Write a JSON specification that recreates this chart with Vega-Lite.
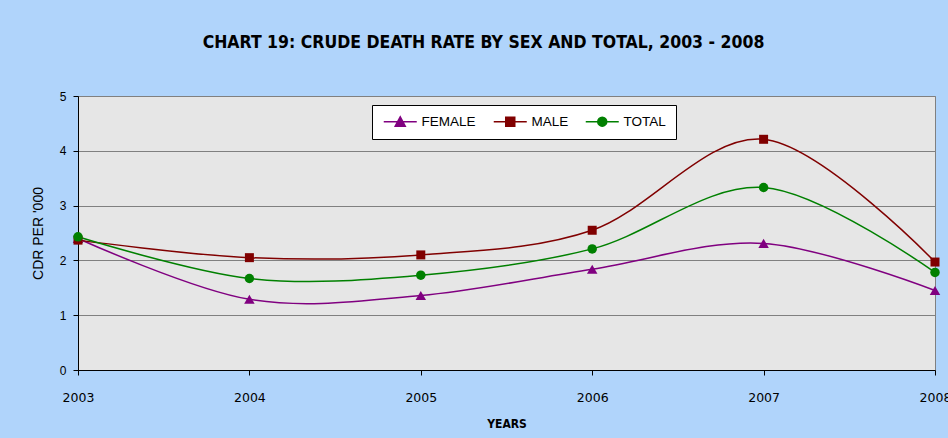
{
  "$schema": "https://vega.github.io/schema/vega-lite/v6.json",
  "width": 857,
  "height": 274,
  "autosize": {"type": "none"},
  "padding": {"left": 78, "top": 96, "right": 13, "bottom": 68},
  "background": "#b0d4fb",
  "title": {
    "text": "CHART 19: CRUDE DEATH RATE BY SEX AND TOTAL, 2003 - 2008",
    "font": "DejaVu Sans Condensed",
    "fontSize": 17.5,
    "fontWeight": "bold",
    "color": "#000000",
    "anchor": "middle",
    "frame": "group",
    "baseline": "alphabetic",
    "dx": -23,
    "offset": 25
  },
  "config": {
    "view": {"fill": "#e6e6e6", "stroke": "#808080", "strokeWidth": 1},
    "legend": {
      "orient": "none",
      "legendX": 294,
      "legendY": 9,
      "direction": "horizontal",
      "fillColor": "#ffffff",
      "strokeColor": "#000000",
      "padding": 9.5,
      "symbolSize": 100,
      "symbolStrokeWidth": 1.5,
      "labelOffset": 26.5,
      "columnPadding": 14,
      "labelFont": "Liberation Sans",
      "labelFontSize": 13.5,
      "labelColor": "#000000",
      "labelLimit": 200
    }
  },
  "data": {
    "values": [
      {"year": 2003, "series": "FEMALE", "cdr": 2.40},
      {"year": 2004, "series": "FEMALE", "cdr": 1.29},
      {"year": 2005, "series": "FEMALE", "cdr": 1.36},
      {"year": 2006, "series": "FEMALE", "cdr": 1.84},
      {"year": 2007, "series": "FEMALE", "cdr": 2.31},
      {"year": 2008, "series": "FEMALE", "cdr": 1.45},
      {"year": 2003, "series": "MALE", "cdr": 2.37},
      {"year": 2004, "series": "MALE", "cdr": 2.05},
      {"year": 2005, "series": "MALE", "cdr": 2.10},
      {"year": 2006, "series": "MALE", "cdr": 2.55},
      {"year": 2007, "series": "MALE", "cdr": 4.21},
      {"year": 2008, "series": "MALE", "cdr": 1.97},
      {"year": 2003, "series": "TOTAL", "cdr": 2.43},
      {"year": 2004, "series": "TOTAL", "cdr": 1.67},
      {"year": 2005, "series": "TOTAL", "cdr": 1.73},
      {"year": 2006, "series": "TOTAL", "cdr": 2.21},
      {"year": 2007, "series": "TOTAL", "cdr": 3.33},
      {"year": 2008, "series": "TOTAL", "cdr": 1.78}
    ]
  },
  "encoding": {
    "x": {
      "field": "year",
      "type": "quantitative",
      "scale": {"domain": [2003, 2008], "nice": false, "zero": false},
      "axis": {
        "title": "YEARS",
        "values": [2003, 2004, 2005, 2006, 2007, 2008],
        "format": "d",
        "grid": false,
        "labelFlush": false,
        "labelOverlap": false,
        "labelBound": false,
        "labelFont": "DejaVu Sans",
        "labelFontSize": 12.5,
        "labelColor": "#000000",
        "labelPadding": 16,
        "tickSize": 5,
        "tickColor": "#000000",
        "domainColor": "#000000",
        "titleFont": "DejaVu Sans Condensed",
        "titleFontSize": 12,
        "titleFontWeight": "bold",
        "titleColor": "#000000",
        "titlePadding": 15
      }
    },
    "y": {
      "field": "cdr",
      "type": "quantitative",
      "scale": {"domain": [0, 5], "nice": false},
      "axis": {
        "title": "CDR PER '000",
        "values": [0, 1, 2, 3, 4, 5],
        "gridColor": "#808080",
        "gridWidth": 1,
        "labelFont": "Liberation Sans",
        "labelFontSize": 12,
        "labelColor": "#000000",
        "labelPadding": 7,
        "tickSize": 5,
        "tickColor": "#000000",
        "domainColor": "#000000",
        "titleFont": "Liberation Sans",
        "titleFontSize": 14,
        "titleFontWeight": "normal",
        "titleColor": "#000000",
        "titlePadding": 14
      }
    }
  },
  "layer": [
    {
      "transform": [{"filter": "datum.cdr < 0"}],
      "mark": {"type": "line", "strokeWidth": 1.5},
      "encoding": {
        "stroke": {
          "field": "series",
          "type": "nominal",
          "scale": {"domain": ["FEMALE", "MALE", "TOTAL"], "range": ["#800080", "#800000", "#008000"]},
          "legend": {"title": null}
        },
        "fill": {
          "field": "series",
          "type": "nominal",
          "scale": {"domain": ["FEMALE", "MALE", "TOTAL"], "range": ["#800080", "#800000", "#008000"]},
          "legend": {"title": null}
        },
        "shape": {
          "field": "series",
          "type": "nominal",
          "scale": {
            "domain": ["FEMALE", "MALE", "TOTAL"],
            "range": [
              "M-0.9,0H5.7M1.4,0.9L2.4,-0.95L3.4,0.9Z",
              "M-0.9,0H5.7M1.5,-0.9H3.3V0.9H1.5Z",
              "M-0.9,0H5.7M1.5,0A0.9,0.9,0,1,0,3.3,0A0.9,0.9,0,1,0,1.5,0Z"
            ]
          },
          "legend": {"title": null}
        }
      }
    },
    {
      "mark": {"type": "line", "interpolate": "cardinal", "strokeWidth": 1.5},
      "encoding": {
        "color": {
          "field": "series",
          "type": "nominal",
          "scale": {"domain": ["FEMALE", "MALE", "TOTAL"], "range": ["#800080", "#800000", "#008000"]},
          "legend": null
        }
      }
    },
    {
      "transform": [{"filter": "datum.series === 'FEMALE'"}],
      "mark": {"type": "point", "filled": true, "opacity": 1, "shape": "triangle-up", "size": 110, "color": "#800080"},
      "encoding": {}
    },
    {
      "transform": [{"filter": "datum.series === 'MALE'"}],
      "mark": {"type": "point", "filled": true, "opacity": 1, "shape": "square", "size": 81, "color": "#800000"},
      "encoding": {}
    },
    {
      "transform": [{"filter": "datum.series === 'TOTAL'"}],
      "mark": {"type": "point", "filled": true, "opacity": 1, "shape": "circle", "size": 90, "color": "#008000"},
      "encoding": {}
    }
  ]
}
